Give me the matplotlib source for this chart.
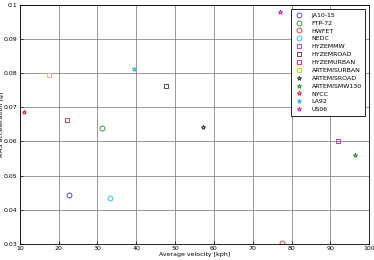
import matplotlib
matplotlib.use('Agg')
import matplotlib.pyplot as plt

# drive cycles: average velocity [kph] vs RMS acceleration [g]
cycles = ['JA10-15', 'FTP-72', 'HWFET', 'NEDC', 'HYZEMMW', 'HYZEMROAD', 'HYZEMURBAN',
          'ARTEMISURBAN', 'ARTEMISROAD', 'ARTEMISMW130', 'NYCC', 'LA92', 'US06']
avg_velocity = [22.6, 31.1, 77.6, 33.2, 92.0, 47.6, 22.1, 17.5, 57.2, 96.4, 11.0, 39.4, 77.0]
rms_accel = [0.0443, 0.0640, 0.0302, 0.0435, 0.0600, 0.0763, 0.0663,
             0.0795, 0.0643, 0.0561, 0.0687, 0.0812, 0.0980]
markers = ['o', 'o', 'o', 'o', 's', 's', 's', 's', '*', '*', '*', '*', '*']
colors = ['#5a46d0', '#3f9a3a', '#e04848', '#3cc4d4', '#b840c8', '#505050', '#e04050',
          '#d4d040', '#404040', '#2f9a2f', '#e03040', '#30b8c8', '#c030c0']

fig = plt.figure(figsize=(3.74, 2.6), dpi=100)
ax = fig.add_axes([0.053, 0.062, 0.934, 0.919])

for name, x, y, m, c in zip(cycles, avg_velocity, rms_accel, markers, colors):
    ax.plot(x, y, linestyle='none', marker=m, markersize=3.5 if m != '*' else 3,
            markerfacecolor='none', markeredgecolor=c,
            markeredgewidth=0.7, label=name)

ax.set_xlim(10, 100)
ax.set_ylim(0.03, 0.1)
ax.set_xticks(range(10, 101, 10))
ax.set_yticks([0.03, 0.04, 0.05, 0.06, 0.07, 0.08, 0.09, 0.1])
ax.set_yticklabels(['0.03', '0.04', '0.05', '0.06', '0.07', '0.08', '0.09', '0.1'])
ax.grid(True, color='#888888', linewidth=0.6)
ax.tick_params(labelsize=4.5, length=2, width=0.5, direction='in', pad=1.5)
for s in ax.spines.values():
    s.set_linewidth(0.6)
ax.set_xlabel('Average velocity [kph]', fontsize=4.5, labelpad=1)
ax.set_ylabel('RMS acceleration [g]', fontsize=4.5)
ax.yaxis.set_label_coords(-0.044, 0.5)

leg = ax.legend(loc='upper right', fontsize=4.5, frameon=True, fancybox=False,
                edgecolor='black', framealpha=1, borderpad=0.6, labelspacing=0.4,
                handlelength=1.5, handletextpad=1.2, borderaxespad=0.6)
leg.get_frame().set_linewidth(0.6)

fig.savefig('out.png', dpi=100)
